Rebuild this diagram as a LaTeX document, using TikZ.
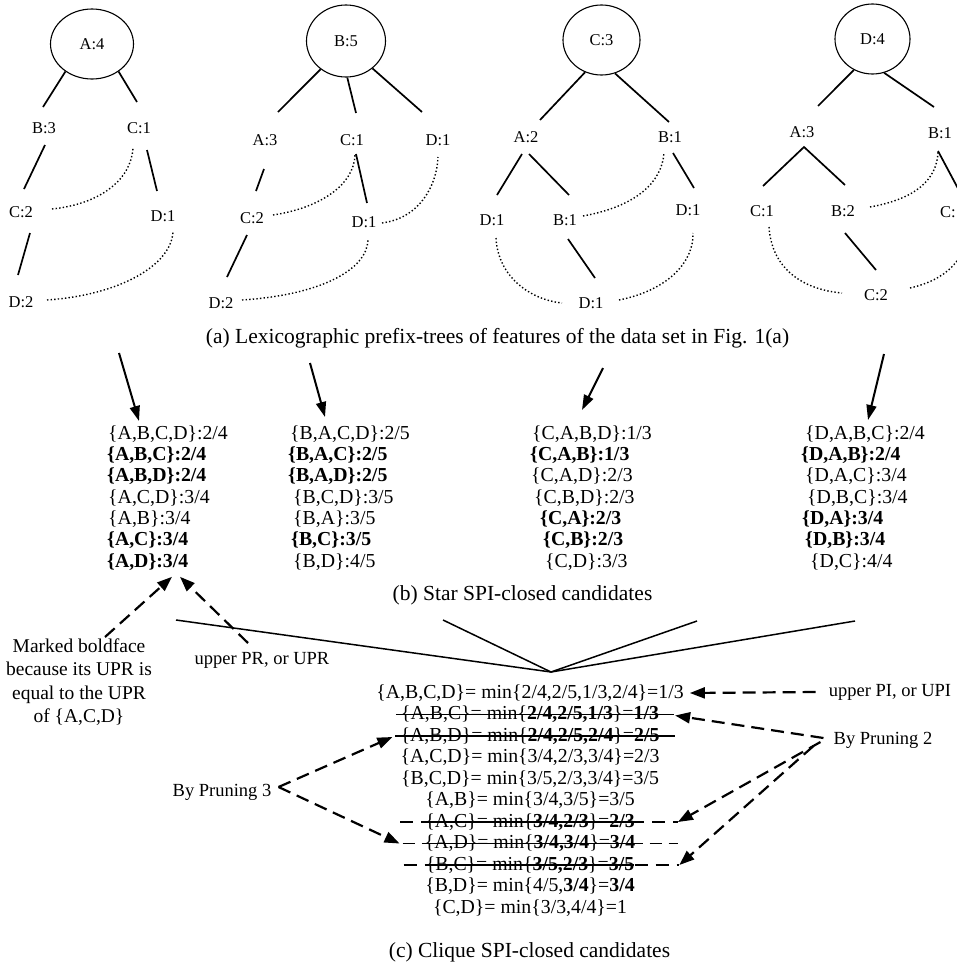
\documentclass[tikz,border=0pt]{standalone}
\usepackage{fontspec}
\setmainfont{Liberation Serif}
\usetikzlibrary{shapes.geometric,arrows.meta,calc}
\newcommand\szTree{\fontsize{16.5}{18}\selectfont}
\newcommand\szList{\fontsize{19.8}{22}\selectfont}
\newcommand\szCap{\fontsize{21.5}{24}\selectfont}
\newcommand\szNote{\fontsize{18.5}{22}\selectfont}
\newcommand\szMark{\fontsize{19.5}{23.3}\selectfont}
\begin{document}
\begin{tikzpicture}[x=1pt,y=-1pt,
  lab/.style={inner sep=0pt, font=\szTree},
  root/.style={ellipse, draw, line width=1.1pt, inner sep=0pt, font=\szTree},
  tedge/.style={line width=1.7pt},
  tdot/.style={line width=1.4pt, dash pattern=on 1.4pt off 2.2pt},
  row/.style={inner sep=0pt, font=\szList, anchor=west},
  crow/.style={inner sep=0pt, font=\szList},
  captext/.style={inner sep=0pt, font=\szCap},
  note/.style={inner sep=0pt, font=\szNote, align=center},
  solidarrow/.style={line width=2pt, -{Triangle[length=15pt,width=10pt]}},
  dasharrow/.style={line width=2.2pt, dash pattern=on 13pt off 7pt, -{Triangle[length=15pt,width=11pt]}},
  starline/.style={line width=1.5pt},
  strike/.style={line width=1.6pt},
  dstrike/.style={line width=1.8pt, dash pattern=on 13pt off 8pt},
]
\fill[white] (0,0) rectangle (957,967);
\useasboundingbox (0,0) rectangle (957,967);
\begin{scope}
\clip (0,0) rectangle (957,967);

% ---------- Tree A ----------
\node[root, minimum width=83pt, minimum height=70pt] (rA) at (92,44) {A:4};
\node[lab] (aB3) at (44,128) {B:3};
\node[lab] (aC1) at (139,128) {C:1};
\node[lab] (aC2) at (21,212) {C:2};
\node[lab] (aD1) at (163,216) {D:1};
\node[lab] (aD2) at (21,302) {D:2};
\draw[tedge] (rA.226) -- ($(aB3)+(-1,-21)$);
\draw[tedge] (rA.314) -- ($(aC1)+(-2,-26)$);
\draw[tedge] ($(aB3)+(1,17)$) -- ($(aC2)+(3,-23)$);
\draw[tedge] ($(aC1)+(8,22)$) -- ($(aD1)+(-6,-25)$);
\draw[tedge] ($(aC2)+(9,21)$) -- ($(aD2)+(-3,-27)$);
\draw[tdot] ($(aC2)+(31,-3)$) .. controls +(48,-5) and +(-2,32) .. ($(aC1)+(-6,20)$);
\draw[tdot] ($(aD2)+(26,-2)$) .. controls +(73,-5) and +(-1,34) .. ($(aD1)+(10,15)$);

% ---------- Tree B ----------
\node[root, minimum width=79pt, minimum height=72pt] (rB) at (346,41) {B:5};
\node[lab] (bA3) at (265,140) {A:3};
\node[lab] (bC1) at (352,140) {C:1};
\node[lab] (bD1) at (438,140) {D:1};
\node[lab] (bC2) at (252,218) {C:2};
\node[lab] (bD1m) at (364,222) {D:1};
\node[lab] (bD2) at (221,303) {D:2};
\draw[tedge] (rB.228) -- ($(bA3)+(13,-28)$);
\draw[tedge] (rB.272) -- ($(bC1)+(4,-27)$);
\draw[tedge] (rB.314) -- ($(bD1)+(-16,-28)$);
\draw[tedge] ($(bA3)+(-1,29)$) -- ($(bC2)+(4,-27)$);
\draw[tedge] ($(bC2)+(-5,17)$) -- ($(bD2)+(6,-26)$);
\draw[tedge] ($(bC1)+(4,14)$) -- ($(bD1m)+(3,-19)$);
\draw[tdot] ($(bC2)+(21,-3)$) .. controls +(47,-7) and +(-1,30) .. ($(bC1)+(3,15)$);
\draw[tdot] ($(bD1m)+(18,1)$) .. controls +(38,-5) and +(-1,28) .. ($(bD1)+(0,17)$);
\draw[tdot] ($(bD2)+(21,-3)$) .. controls +(78,-5) and +(-1,30) .. ($(bD1m)+(4,18)$);

% ---------- Tree C ----------
\node[root, minimum width=77pt, minimum height=70pt] (rC) at (601.5,40) {C:3};
\node[lab] (cA2) at (526,137) {A:2};
\node[lab] (cB1) at (670,137) {B:1};
\node[lab] (cD1l) at (492,220) {D:1};
\node[lab] (cB1m) at (565,220) {B:1};
\node[lab] (cD1r) at (688,210) {D:1};
\node[lab] (cD1b) at (591,303) {D:1};
\draw[tedge] (rC.243) -- ($(cA2)+(14,-17)$);
\draw[tedge] (rC.292) -- ($(cB1)+(-1,-15)$);
\draw[tedge] ($(cA2)+(-4,17)$) -- ($(cD1l)+(5,-25)$);
\draw[tedge] ($(cA2)+(3,17)$) -- ($(cB1m)+(4,-25)$);
\draw[tedge] ($(cB1)+(3,16)$) -- ($(cD1r)+(6,-22)$);
\draw[tedge] ($(cB1m)+(3,19)$) -- ($(cD1b)+(4,-25)$);
\draw[tdot] ($(cB1m)+(18,-4)$) .. controls +(55,-10) and +(-2,28) .. ($(cB1)+(-6,16)$);
\draw[tdot] ($(cD1l)+(4,18)$) .. controls +(2,40) and +(-30,-3) .. ($(cD1b)+(-29,0)$);
\draw[tdot] ($(cD1b)+(28,-3)$) .. controls +(50,-10) and +(1,28) .. ($(cD1r)+(5,23)$);

% ---------- Tree D ----------
\node[root, minimum width=75pt, minimum height=70pt] (rD) at (872.5,39) {D:4};
\node[lab] (dA3) at (802,132) {A:3};
\node[lab] (dB1) at (940,133) {B:1};
\node[lab] (dC1) at (762,211) {C:1};
\node[lab] (dB2) at (843,211) {B:2};
\node[lab, anchor=west] (dC1r) at (940,212) {C:};
\node[lab] (dC2) at (876,295) {C:2};
\draw[tedge] (rD.239) -- ($(dA3)+(16,-26)$);
\draw[tedge] (rD.289) -- ($(dB1)+(-6,-26)$);
\draw[tedge] ($(dC1)+(1,-25)$) -- ($(dA3)+(2,15)$) -- ($(dB2)+(2,-26)$);
\draw[tedge] ($(dB1)+(-2,18)$) -- ($(dC1r.west)+(22,-16)$);
\draw[tedge] ($(dB2)+(2,22)$) -- ($(dC2)+(0,-25)$);
\draw[tdot] ($(dB2)+(27,-4)$) .. controls +(45,-8) and +(-1,28) .. ($(dB1)+(-2,19)$);
\draw[tdot] ($(dC1)+(7,16)$) .. controls +(3,45) and +(-35,-3) .. ($(dC2)+(-34,-2)$);
\draw[tdot] ($(dC2)+(34,-7)$) .. controls +(35,-8) and +(0,35) .. ($(dC1r.west)+(28,13)$);

\node[captext] (capA) at (497.5,338) {(a) Lexicographic prefix-trees of features of the data set in Fig. 1(a)};

% ---------- Star lists ----------
\node[row] (lA1) at (108,434) {\{A,B,C,D\}:2/4};
\node[row] (lA2) at (107,455.3) {\textbf{\{A,B,C\}:2/4}};
\node[row] (lA3) at (107,476.6) {\textbf{\{A,B,D\}:2/4}};
\node[row] (lA4) at (108,497.9) {\{A,C,D\}:3/4};
\node[row] (lA5) at (108,519.2) {\{A,B\}:3/4};
\node[row] (lA6) at (107,540.5) {\textbf{\{A,C\}:3/4}};
\node[row] (lA7) at (107,561.8) {\textbf{\{A,D\}:3/4}};

\node[row] (lB1) at (290,434) {\{B,A,C,D\}:2/5};
\node[row] (lB2) at (288,455.3) {\textbf{\{B,A,C\}:2/5}};
\node[row] (lB3) at (288,476.6) {\textbf{\{B,A,D\}:2/5}};
\node[row] (lB4) at (293,497.9) {\{B,C,D\}:3/5};
\node[row] (lB5) at (293,519.2) {\{B,A\}:3/5};
\node[row] (lB6) at (291,540.5) {\textbf{\{B,C\}:3/5}};
\node[row] (lB7) at (293,561.8) {\{B,D\}:4/5};

\node[row] (lC1) at (532,434) {\{C,A,B,D\}:1/3};
\node[row] (lC2) at (530,455.3) {\textbf{\{C,A,B\}:1/3}};
\node[row] (lC3) at (531,476.6) {\{C,A,D\}:2/3};
\node[row] (lC4) at (534,497.9) {\{C,B,D\}:2/3};
\node[row] (lC5) at (540,519.2) {\textbf{\{C,A\}:2/3}};
\node[row] (lC6) at (543,540.5) {\textbf{\{C,B\}:2/3}};
\node[row] (lC7) at (545,561.8) {\{C,D\}:3/3};

\node[row] (lD1) at (805,434) {\{D,A,B,C\}:2/4};
\node[row] (lD2) at (801,455.3) {\textbf{\{D,A,B\}:2/4}};
\node[row] (lD3) at (805,476.6) {\{D,A,C\}:3/4};
\node[row] (lD4) at (807,497.9) {\{D,B,C\}:3/4};
\node[row] (lD5) at (802,519.2) {\textbf{\{D,A\}:3/4}};
\node[row] (lD6) at (805,540.5) {\textbf{\{D,B\}:3/4}};
\node[row] (lD7) at (810,561.8) {\{D,C\}:4/4};

\coordinate (tA) at (119,353);
\coordinate (tB) at (310,363);
\coordinate (tC) at (603,368);
\coordinate (tD) at (884,354);
\draw[solidarrow] (tA) -- ($(lA1.west)+(31,-13)$);
\draw[solidarrow] (tB) -- ($(lB1.west)+(35,-17)$);
\draw[solidarrow] (tC) -- ($(lC1.west)+(50,-24)$);
\draw[solidarrow] (tD) -- ($(lD1.west)+(63,-14)$);

\node[captext] (capB) at (522.5,595) {(b) Star SPI-closed candidates};

% ---------- notes ----------
\node[inner sep=0pt, font=\szMark, align=center] (nMark) at (79,682) {Marked boldface\\because its UPR is\\equal to the UPR\\of \{A,C,D\}};
\node[note] (nUPR) at (262,660) {upper PR, or UPR};
\draw[dasharrow] ($(nMark)+(26,-45)$) -- ($(lA7.west)+(65,15)$);
\draw[dasharrow] ($(nUPR)+(-14,-17)$) -- ($(lA7.west)+(73,15)$);

% ---------- Clique rows ----------
\node[crow] (c1) at (530,693) {\{A,B,C,D\}= min\{2/4,2/5,1/3,2/4\}=1/3};
\node[crow] (c2) at (530,714.5) {\{A,B,C\}= min\{\textbf{2/4,2/5,1/3}\}=\textbf{1/3}};
\node[crow] (c3) at (530,736) {\{A,B,D\}= min\{\textbf{2/4,2/5,2/4}\}=\textbf{2/5}};
\node[crow] (c4) at (530,757.5) {\{A,C,D\}= min\{3/4,2/3,3/4\}=2/3};
\node[crow] (c5) at (530,779) {\{B,C,D\}= min\{3/5,2/3,3/4\}=3/5};
\node[crow] (c6) at (530,800.5) {\{A,B\}= min\{3/4,3/5\}=3/5};
\node[crow] (c7) at (530,822) {\{A,C\}= min\{\textbf{3/4,2/3}\}=\textbf{2/3}};
\node[crow] (c8) at (530,843.5) {\{A,D\}= min\{\textbf{3/4,3/4}\}=\textbf{3/4}};
\node[crow] (c9) at (530,865) {\{B,C\}= min\{\textbf{3/5,2/3}\}=\textbf{3/5}};
\node[crow] (c10) at (530,886.5) {\{B,D\}= min\{4/5,\textbf{3/4}\}=\textbf{3/4}};
\node[crow] (c11) at (530,908) {\{C,D\}= min\{3/3,4/4\}=1};

% strike-throughs
\draw[strike] ($(c2.west)+(-5,0)$) coordinate (s2l) -- ($(c2.east)+(15,0)$) coordinate (s2r);
\draw[strike] ($(c3.west)+(-5,0)$) coordinate (s3l) -- ($(c3.east)+(15,0)$) coordinate (s3r);
\draw[strike] (c7.west) -- (c7.east);
\draw[strike] (c8.west) -- (c8.east);
\draw[strike] (c9.west) -- (c9.east);
\draw[dstrike] ($(c7.west)+(-25,0)$) -- ($(c7.east)+(43,0)$) coordinate (s7r);
\draw[dstrike, dash pattern=on 12pt off 7pt] ($(c8.west)+(-22,0)$) coordinate (s8l) -- ($(c8.east)+(43,0)$);
\draw[dstrike] ($(c9.west)+(-22,0)$) -- ($(c9.east)+(45,0)$) coordinate (s9r);

\node[captext] (capC) at (529.5,952) {(c) Clique SPI-closed candidates};

% star lines converging
\coordinate (apex) at ($(c1)+(21,-21)$);
\coordinate (st1) at (176,620);
\coordinate (st2) at (443,620);
\coordinate (st3) at (697,621);
\coordinate (st4) at (855,621);
\draw[starline] (st1) -- (apex) -- (st4);
\draw[starline] (st2) -- (apex) -- (st3);

% annotations with arrows
\node[note] (nUPI) at (890,692) {upper PI, or UPI};
\node[note] (nP2) at (883,740) {By Pruning 2};
\node[note] (nP3) at (222,792) {By Pruning 3};
\draw[dasharrow] ($(nUPI.west)+(-13,0)$) -- ($(c1.east)+(6,0)$);
\draw[dasharrow] ($(nP2.west)+(-10,-2)$) -- ($(s2r)+(1,1)$);
\draw[dasharrow] ($(nP2.west)+(-13,2)$) -- (s7r);
\draw[dasharrow] ($(nP2.west)+(-20,6)$) -- (s9r);
\draw[dasharrow] ($(nP3.east)+(7,-5)$) -- ($(s3l)+(-3,1)$);
\draw[dasharrow] ($(nP3.east)+(7,-5)$) -- ($(s8l)+(-3,0)$);

\end{scope}
\end{tikzpicture}
\end{document}
